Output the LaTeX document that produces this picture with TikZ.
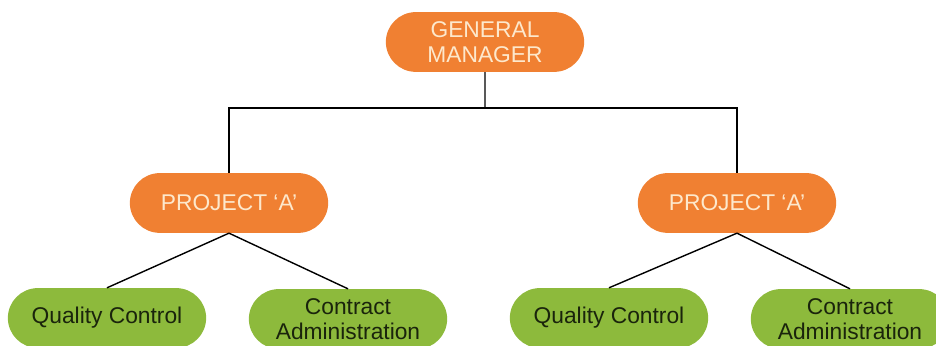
\documentclass[tikz,border=0pt]{standalone}
\usepackage{fontspec}
\setmainfont{Liberation Sans}
\usetikzlibrary{shapes.misc}
\definecolor{boxorange}{RGB}{240,128,50}
\definecolor{boxgreen}{RGB}{141,186,60}
\definecolor{textcream}{RGB}{253,232,204}
\definecolor{textdark}{RGB}{26,36,12}
\tikzset{
	headbox/.style={rounded rectangle, fill=boxorange, text=textcream, minimum width=141pt, minimum height=42.5pt, inner sep=0pt, align=center, font=\fontsize{16.2}{18}\selectfont},
	teambox/.style={rounded rectangle, fill=boxgreen, text=textdark, minimum width=141pt, minimum height=42.5pt, inner sep=0pt, align=center, font=\fontsize{16.2}{18}\selectfont},
	link/.style={draw=black, line width=1pt}
}
\begin{document}
\begin{tikzpicture}[x=0.025cm, y=0.025cm]
		\useasboundingbox (0,0) rectangle (936,346);

		\node[headbox] (gm) at (485, 304) {GENERAL\\MANAGER};

		\node[headbox] (pa1) at (229, 143) {PROJECT `A'};
		\node[headbox] (pa2) at (737, 143) {PROJECT `A'};

		\node[teambox] (qc1) at (107, 28) {Quality Control};
		\node[teambox] (ca1) at (348, 27) {Contract\\Administration};
		\node[teambox] (qc2) at (609, 28) {Quality Control};
		\node[teambox] (ca2) at (850, 27) {Contract\\Administration};

		\coordinate (bar) at (485, 238);

		\draw[link] (gm) -- (bar);
		\draw[link] (bar) -| (pa1);
		\draw[link] (bar) -| (pa2);

		\draw[link] (pa1.south) -- (qc1.north);
		\draw[link] (pa1.south) -- (ca1.north);
		\draw[link] (pa2.south) -- (qc2.north);
		\draw[link] (pa2.south) -- (ca2.north);
	\end{tikzpicture}
\end{document}
